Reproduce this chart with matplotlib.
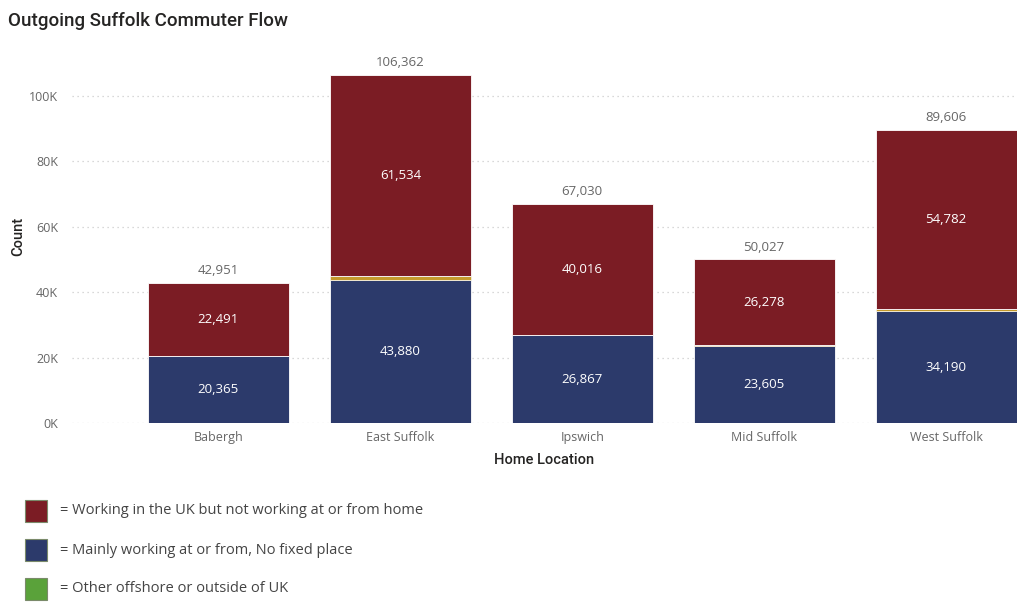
import matplotlib.pyplot as plt
from matplotlib.patches import Rectangle
from matplotlib.ticker import FuncFormatter

# data
locations = ["Babergh", "East Suffolk", "Ipswich", "Mid Suffolk", "West Suffolk"]
mainly_home = [20365, 43880, 26867, 23605, 34190]
other_offshore = [95, 948, 147, 144, 634]
working_uk = [22491, 61534, 40016, 26278, 54782]
totals = [42951, 106362, 67030, 50027, 89606]

legend_labels = [
    "= Working in the UK but not working at or from home",
    "= Mainly working at or from, No fixed place",
    "= Other offshore or outside of UK",
]

RED = "#7B1C24"
BLUE = "#2C3A6B"
GOLD = "#C49A2C"
GREEN = "#5AA23A"

plt.rcParams['font.family'] = ['Open Sans', 'DejaVu Sans']

fig = plt.figure(figsize=(10.17, 6.08), dpi=100)
ax = fig.add_axes([0.0708, 0.3043, 0.9292, 0.613])

x = list(range(len(locations)))
w = 0.775
ax.bar(x, mainly_home, w, color=BLUE, edgecolor="white", linewidth=0.6, zorder=2)
ax.bar(x, other_offshore, w, bottom=mainly_home, color=GOLD, edgecolor="white",
       linewidth=0.4, zorder=2)
bottom2 = [a + b for a, b in zip(mainly_home, other_offshore)]
ax.bar(x, working_uk, w, bottom=bottom2, color=RED, edgecolor="white", linewidth=0.6, zorder=2)

# labels inside segments and totals
for i in x:
    ax.text(i, mainly_home[i] / 2, f"{mainly_home[i]:,}", ha="center", va="center",
            color="white", fontsize=9.5)
    ax.text(i, bottom2[i] + working_uk[i] / 2, f"{working_uk[i]:,}", ha="center",
            va="center", color="white", fontsize=9.5)
    ax.text(i, totals[i] + 1800, f"{totals[i]:,}", ha="center", va="bottom",
            color="#666666", fontsize=9.5)

ax.set_xlim(-0.805, 4.39)
ax.set_ylim(0, 114000)
ax.set_yticks([0, 20000, 40000, 60000, 80000, 100000])
ax.yaxis.set_major_formatter(FuncFormatter(lambda v, p: f"{int(v / 1000)}K"))
ax.set_xticks(x)
ax.set_xticklabels(locations)
ax.tick_params(length=0, colors="#666666", labelsize=9)
ax.tick_params(axis="y", pad=10)
ax.tick_params(axis="x", pad=6)
ax.grid(axis="y", linestyle=(0, (1, 3)), color="#cccccc", linewidth=0.9, zorder=0)
for s in ax.spines.values():
    s.set_visible(False)

ax.set_ylabel("Count", fontsize=10.5, color="#252423", family=['Roboto', 'DejaVu Sans'],
              fontweight="medium", labelpad=3)
ax.set_xlabel("Home Location", fontsize=10.5, color="#252423", family=['Roboto', 'DejaVu Sans'],
              fontweight="medium", labelpad=6)

fig.text(8 / 1017, 1 - 21 / 608, "Outgoing Suffolk Commuter Flow", fontsize=13.5,
         color="#252423", family=['Roboto', 'DejaVu Sans'], fontweight="medium", va="center")

# legend drawn as squares + text
for k, (lab, col) in enumerate(zip(legend_labels, [RED, BLUE, GREEN])):
    cy = 511 + 39 * k
    fig.patches.append(Rectangle((25 / 1017, 1 - (cy + 11) / 608), 22 / 1017, 22 / 608,
                                 transform=fig.transFigure, facecolor=col,
                                 edgecolor="#7a8a6a", linewidth=0.8))
    fig.text(60 / 1017, 1 - cy / 608, lab, fontsize=10.5, color="#444444", va="center")

fig.savefig("out.png", dpi=100)
